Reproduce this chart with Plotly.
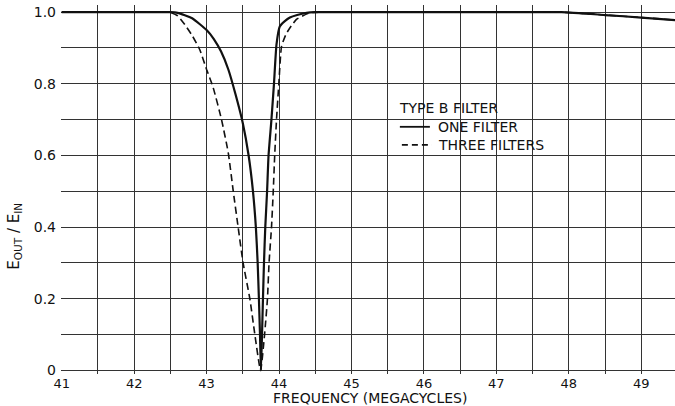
import plotly.graph_objects as go

# --- data ---
freq_one = [41.0, 42.0, 42.5, 42.6, 42.8, 43.0, 43.1, 43.2, 43.3, 43.4, 43.5,
            43.58, 43.64, 43.68, 43.705, 43.722, 43.737, 43.75, 43.765, 43.778, 43.792, 43.81,
            43.835, 43.855, 43.895, 43.93, 43.965, 44.01, 44.08, 44.15, 44.25, 44.38, 44.5,
            45.0, 46.0, 47.0, 47.9, 48.5, 49.0, 49.47]
eout_one = [1.0, 1.0, 1.0, 0.998, 0.983, 0.95, 0.925, 0.89, 0.84, 0.77, 0.69,
            0.60, 0.50, 0.40, 0.30, 0.20, 0.10, 0.0, 0.10, 0.20, 0.30, 0.40,
            0.50, 0.60, 0.70, 0.80, 0.91, 0.96, 0.975, 0.985, 0.992, 0.998, 1.0,
            1.0, 1.0, 1.0, 1.0, 0.992, 0.985, 0.978]

freq_three = [41.0, 42.0, 42.49, 42.6, 42.7, 42.8, 42.906, 43.0, 43.09, 43.206, 43.30,
              43.366, 43.435, 43.504, 43.597, 43.666, 43.745, 43.80, 43.84, 43.862, 43.896,
              43.92, 43.94, 43.965, 43.997, 44.035, 44.10, 44.17, 44.24, 44.33, 44.425, 44.55,
              45.0, 46.0, 47.0, 47.9, 48.5, 49.0, 49.47]
eout_three = [1.0, 1.0, 1.0, 0.99, 0.965, 0.935, 0.895, 0.84, 0.79, 0.70, 0.606,
              0.503, 0.40, 0.30, 0.20, 0.10, 0.0, 0.10, 0.20, 0.30, 0.40,
              0.50, 0.60, 0.70, 0.80, 0.905, 0.94, 0.962, 0.98, 0.99, 0.998, 1.0,
              1.0, 1.0, 1.0, 1.0, 0.992, 0.985, 0.978]

x_tickvals = [41, 42, 43, 44, 45, 46, 47, 48, 49]
x_ticktext = ["41", "42", "43", "44", "45", "46", "47", "48", "49"]
y_tickvals = [0.0, 0.2, 0.4, 0.6, 0.8, 1.0]
y_ticktext = ["0", "0.2", "0.4", "0.6", "0.8", "1.0"]

series_names = ["ONE FILTER", "THREE FILTERS"]
legend_title = "TYPE B FILTER"
x_title = "FREQUENCY (MEGACYCLES)"
y_title = "E<sub>OUT</sub> / E<sub>IN</sub>"

FONT = "DejaVu Sans"
INK = "#111111"
GRID = "#333333"

# plot-area geometry (pixels) used to place legend decorations in paper coords
L, PW, B_PX, PH = 61.3, 613.7, 373.65, 368.2


def px(xp):
    return (xp - L) / PW


def py(yp):
    return (B_PX - yp) / PH


fig = go.Figure()
fig.add_trace(go.Scatter(
    x=freq_one, y=eout_one, mode="lines", name=series_names[0], showlegend=False,
    line=dict(color=INK, width=2.2, shape="spline", smoothing=0.5),
))
fig.add_trace(go.Scatter(
    x=freq_three, y=eout_three, mode="lines", name=series_names[1], showlegend=False,
    line=dict(color=INK, width=1.6, dash="7px,4px", shape="spline", smoothing=0.5),
))

leg_font = dict(family=FONT, size=14, color=INK)

fig.update_layout(
    template="none",
    width=675, height=406,
    margin=dict(l=L, r=0, t=5.35, b=32.45, pad=0),
    paper_bgcolor="white", plot_bgcolor="white",
    font=dict(family=FONT, size=14, color=INK),
    showlegend=False,
    xaxis=dict(
        range=[40.99, 49.466], autorange=False, automargin=False,
        tickmode="array", tickvals=x_tickvals, ticktext=x_ticktext,
        showgrid=True, gridcolor=GRID, gridwidth=1.4,
        minor=dict(tick0=41, dtick=0.5, showgrid=True, gridcolor=GRID, gridwidth=1.4, ticks=""),
        zeroline=False, showline=False, ticks="",
        tickfont=dict(family=FONT, size=13, color=INK),
        ticklabelstandoff=0,
    ),
    yaxis=dict(
        range=[-0.01, 1.02], autorange=False, automargin=False,
        tickmode="array", tickvals=y_tickvals, ticktext=y_ticktext,
        showgrid=True, gridcolor=GRID, gridwidth=1.4,
        minor=dict(tick0=0, dtick=0.1, showgrid=True, gridcolor=GRID, gridwidth=1.4, ticks=""),
        zeroline=False, showline=False, ticks="",
        tickfont=dict(family=FONT, size=14, color=INK),
        ticklabelstandoff=4,
    ),
    shapes=[
        dict(type="line", xref="paper", yref="paper",
             x0=px(400), x1=px(430), y0=py(127), y1=py(127),
             line=dict(color=INK, width=1.8)),
        dict(type="line", xref="paper", yref="paper",
             x0=px(402), x1=px(432), y0=py(145), y1=py(145),
             line=dict(color=INK, width=1.6, dash="6px,4px")),
    ],
    annotations=[
        dict(text=legend_title, xref="paper", yref="paper", x=px(397), y=py(108),
             xanchor="left", yanchor="middle", showarrow=False, font=leg_font),
        dict(text=series_names[0], xref="paper", yref="paper", x=px(436), y=py(127),
             xanchor="left", yanchor="middle", showarrow=False, font=leg_font),
        dict(text=series_names[1], xref="paper", yref="paper", x=px(436), y=py(145),
             xanchor="left", yanchor="middle", showarrow=False, font=leg_font),
        dict(text=x_title, xref="paper", yref="paper", x=px(370), y=py(398),
             xanchor="center", yanchor="middle", showarrow=False,
             font=dict(family=FONT, size=14, color=INK)),
        dict(text=y_title, xref="paper", yref="paper", x=px(14), y=py(236),
             xanchor="center", yanchor="middle", showarrow=False, textangle=-90,
             font=dict(family=FONT, size=15, color=INK)),
    ],
)

fig.write_html("out.html")
